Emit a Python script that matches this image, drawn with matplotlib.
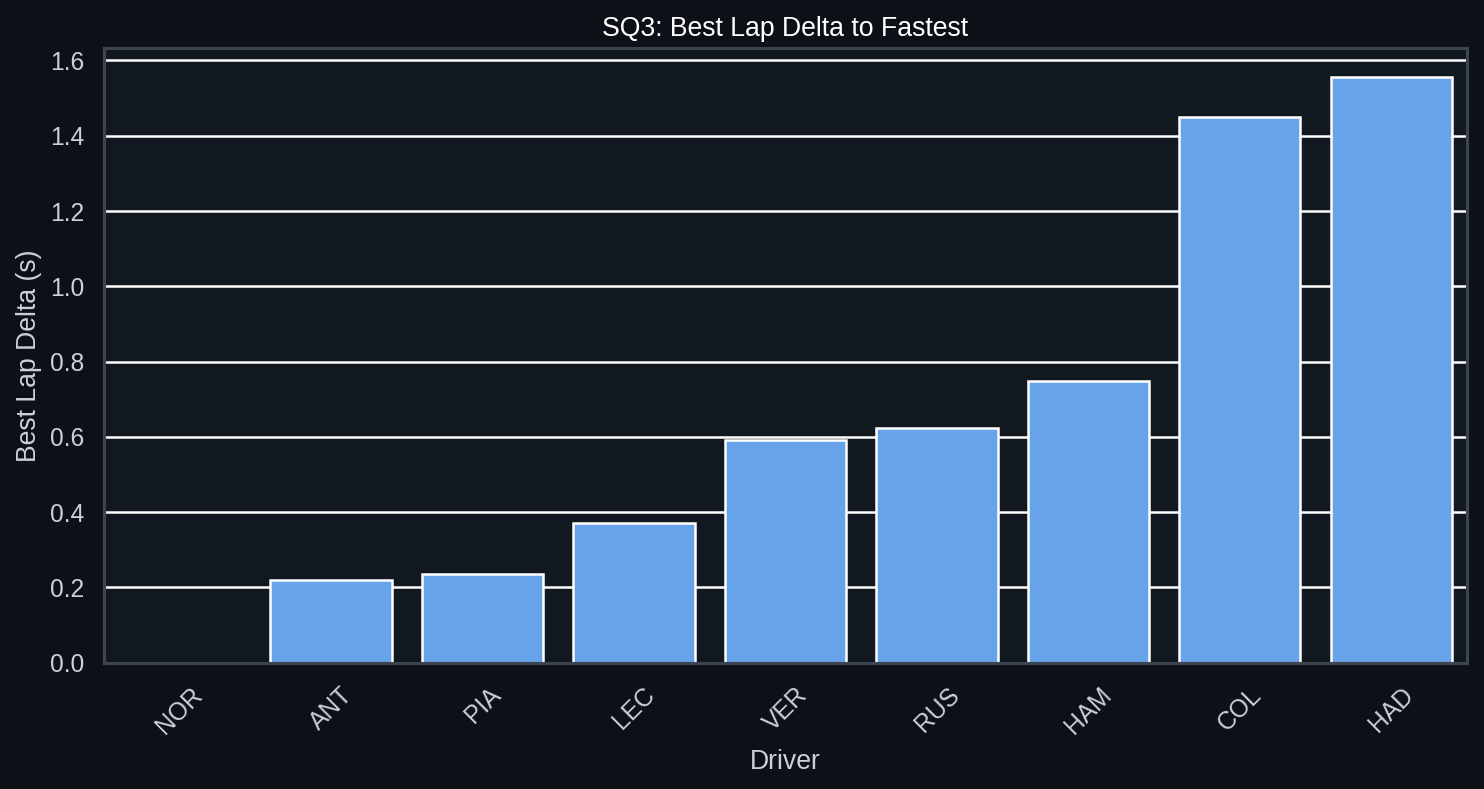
import matplotlib
matplotlib.use("Agg")
import matplotlib.pyplot as plt
import seaborn as sns
import pandas as pd

# data
drivers = ["NOR", "ANT", "PIA", "LEC", "VER", "RUS", "HAM", "COL", "HAD"]
deltas = [0.0, 0.221, 0.237, 0.370, 0.593, 0.624, 0.749, 1.451, 1.555]

BG = "#0d1017"
AX_BG = "#121820"
EDGE = "#3d4451"
TEXT = "#c9d1d9"
BAR = "#66a3e8"

sns.set_theme(style="darkgrid")
plt.rcParams["font.family"] = ["Liberation Sans", "DejaVu Sans"]
plt.rcParams.update({
	"figure.facecolor": BG,
	"axes.facecolor": AX_BG,
	"axes.edgecolor": EDGE,
	"axes.labelcolor": TEXT,
	"xtick.color": TEXT,
	"ytick.color": TEXT,
	"text.color": TEXT,
	"grid.color": "white",
})

df = pd.DataFrame({"Driver": drivers, "Delta": deltas})

fig, ax = plt.subplots(figsize=(1484 / 150, 789 / 150), dpi=150)
fig.subplots_adjust(left=0.070, right=0.9886, top=0.939, bottom=0.160)

sns.barplot(data=df, x="Driver", y="Delta", color=BAR, saturation=1,
			edgecolor="white", linewidth=1.2, ax=ax)

ax.set_title("SQ3: Best Lap Delta to Fastest", color="white", fontsize=12.8)
ax.set_xlabel("Driver", fontsize=12.8, labelpad=5)
ax.set_ylabel("Best Lap Delta (s)", fontsize=12.8)
ax.tick_params(axis="x", labelrotation=45, labelsize=11.8)
ax.tick_params(axis="y", labelsize=11.8)
ax.grid(axis="x", visible=False)
ax.grid(axis="y", color="white", linewidth=1.2)
for s in ax.spines.values():
	s.set_visible(True)
	s.set_color(EDGE)
	s.set_linewidth(1.5)
	s.set_zorder(5)

fig.savefig("out.png", dpi=150, facecolor=BG)
